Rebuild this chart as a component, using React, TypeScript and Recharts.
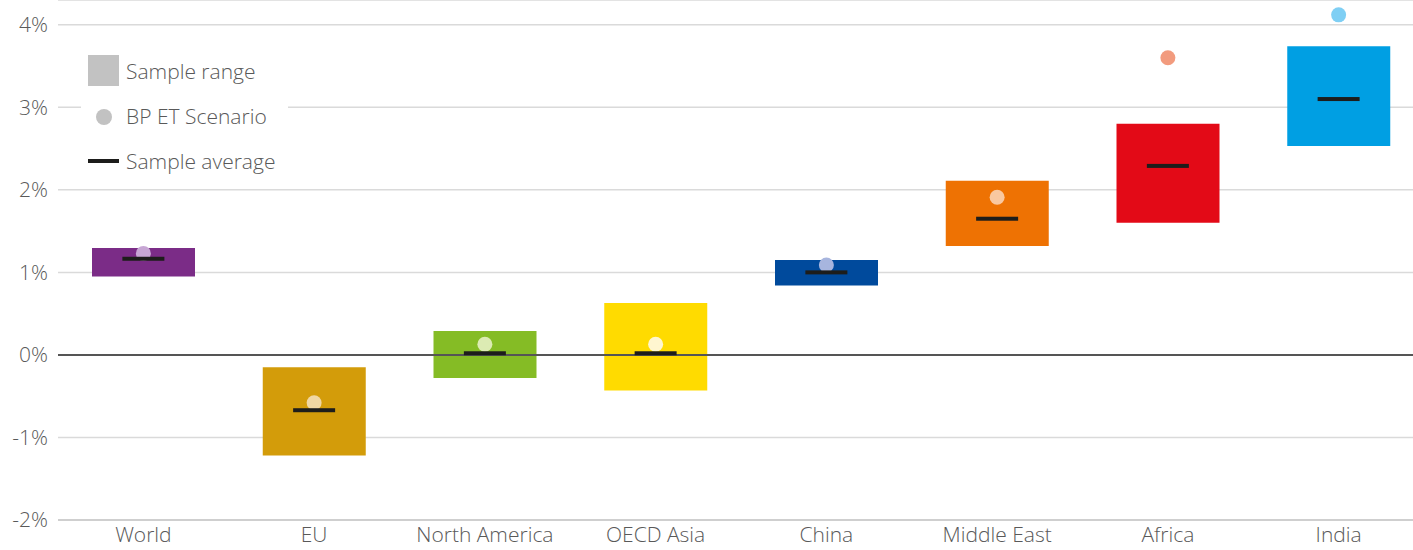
import React from "react";
import {
  ComposedChart,
  Bar,
  Scatter,
  XAxis,
  YAxis,
  CartesianGrid,
  ReferenceLine,
  Cell,
} from "recharts";

const categories = ["World", "EU", "North America", "OECD Asia", "China", "Middle East", "Africa", "India"];
const rangeLow = [0.95, -1.22, -0.28, -0.43, 0.84, 1.32, 1.6, 2.53];
const rangeHigh = [1.295, -0.15, 0.29, 0.63, 1.15, 2.11, 2.8, 3.74];
const sampleAverage = [1.165, -0.67, 0.02, 0.02, 1.0, 1.65, 2.29, 3.1];
const bpScenario = [1.23, -0.58, 0.13, 0.13, 1.09, 1.91, 3.6, 4.12];
const yTicks = [-2, -1, 0, 1, 2, 3, 4];

const barColors = ["#7B2C87", "#D39C0A", "#85BC25", "#FFDB00", "#004A9C", "#EE7203", "#E30A17", "#009FE3"];
const dotColors = ["#C7A6D4", "#F0D7A3", "#DCEBB3", "#FFF6D0", "#A7B5DE", "#F9C8A0", "#F29B7E", "#7FCFF4"];

const data = categories.map((c, i) => ({
  name: c,
  range: [rangeLow[i], rangeHigh[i]],
  avg: sampleAverage[i],
  bp: bpScenario[i],
  idx: i,
}));

const FONT = "'Open Sans', Roboto, 'Liberation Sans', sans-serif";
const TEXT = "#595959";
const FS = 21;

const DotShape = (props: any) => {
  const { cx, cy, payload } = props;
  if (cx == null || cy == null) return null;
  return <circle cx={cx} cy={cy} r={7.5} fill={dotColors[payload.idx]} />;
};

const AvgShape = (props: any) => {
  const { cx, cy } = props;
  if (cx == null || cy == null) return null;
  return <rect x={cx - 21} y={cy - 2} width={42} height={4} fill="#1d1d1b" />;
};

export default function App() {
  return (
    <div
      style={{
        position: "absolute",
        left: 0,
        top: 0,
        width: 1413,
        height: 550,
        overflow: "hidden",
        background: "#fff",
        fontFamily: FONT,
      }}
    >
      <ComposedChart
        width={1424}
        height={550}
        data={data}
        margin={{ top: 0, right: 0, bottom: 0, left: 0 }}
      >
        <CartesianGrid vertical={false} stroke="#dadada" strokeWidth={1.5} />
        <XAxis
          dataKey="name"
          height={30}
          tickLine={false}
          axisLine={{ stroke: "#c8c8c8", strokeWidth: 1.5 }}
          tickSize={0}
          tickMargin={7}
          interval={0}
          tick={{ fill: TEXT, fontSize: FS, fontFamily: FONT, fontWeight: 300 }}
        />
        <YAxis
          domain={[-2, 4.3]}
          ticks={yTicks}
          width={58}
          axisLine={false}
          tickLine={false}
          tickSize={0}
          tickMargin={10}
          tickFormatter={(v: number) => `${v}%`}
          tick={{ fill: TEXT, fontSize: FS, fontFamily: FONT, fontWeight: 300 }}
        />
        <Bar dataKey="range" barSize={103} isAnimationActive={false}>
          {data.map((d, i) => (
            <Cell key={d.name} fill={barColors[i]} />
          ))}
        </Bar>
        <ReferenceLine y={0} stroke="#555" strokeWidth={2} />
        <Scatter dataKey="bp" shape={DotShape} isAnimationActive={false} />
        <Scatter dataKey="avg" shape={AvgShape} isAnimationActive={false} />
      </ComposedChart>
      <div
        style={{
          position: "absolute",
          left: 81,
          top: 45,
          width: 207,
          height: 135,
          background: "#fff",
          color: TEXT,
          fontSize: FS,
          fontWeight: 300,
          fontFamily: FONT,
        }}
      >
        <div style={{ position: "absolute", left: 7, top: 10, width: 31, height: 31, background: "#c2c2c2" }} />
        <div style={{ position: "absolute", left: 45, top: 26, transform: "translateY(-50%)", whiteSpace: "nowrap" }}>
          Sample range
        </div>
        <div
          style={{
            position: "absolute",
            left: 14.5,
            top: 63.5,
            width: 16,
            height: 16,
            borderRadius: 8,
            background: "#c2c2c2",
          }}
        />
        <div style={{ position: "absolute", left: 45, top: 71, transform: "translateY(-50%)", whiteSpace: "nowrap" }}>
          BP ET Scenario
        </div>
        <div style={{ position: "absolute", left: 7, top: 114, width: 31, height: 4, background: "#1d1d1b" }} />
        <div style={{ position: "absolute", left: 45, top: 116, transform: "translateY(-50%)", whiteSpace: "nowrap" }}>
          Sample average
        </div>
      </div>
    </div>
  );
}
